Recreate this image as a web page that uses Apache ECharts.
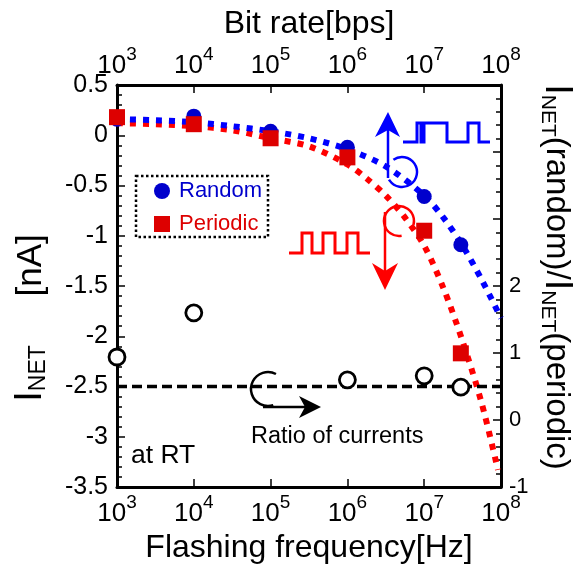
<!DOCTYPE html>
<html><head><meta charset="utf-8">
<script src="https://cdn.jsdelivr.net/npm/echarts@6/dist/echarts.min.js"></script>
<style>html,body{margin:0;padding:0;background:#fff}#c{width:579px;height:574px}</style>
</head><body><div id="c"></div>
<script>
// ---- data ----
const freqs = [1e3, 1e4, 1e5, 1e6, 1e7, 3e7];
const randomI = [0.16, 0.19, 0.04, -0.12, -0.61, -1.09];
const periodicI = [0.18, 0.11, -0.03, -0.22, -0.95, -2.17];
const ratioFreqs = [1e3, 1e4, 1e6, 1e7, 3e7];
const ratioVals = [0.94, 1.6, 0.6, 0.66, 0.49];
const randomFitFreqs = [1000, 3162, 10000, 31623, 100000, 316228, 1e6, 3162278, 1e7, 17782794, 31622777, 56234133, 1e8];
const randomFit = [0.16, 0.15, 0.13, 0.09, 0.04, -0.03, -0.14, -0.31, -0.6, -0.82, -1.1, -1.44, -1.82];
const periodicFitFreqs = [1000, 3162, 10000, 31623, 100000, 316228, 1e6, 1778279, 3162278, 5623413, 1e7, 17782794, 31622777, 56234133, 91201084];
const periodicFit = [0.12, 0.11, 0.09, 0.05, -0.03, -0.11, -0.29, -0.43, -0.6, -0.82, -1.1, -1.52, -2.05, -2.67, -3.33];
const refFreqs = [1e3, 1e8];
const refLevel = [-2.5, -2.5];
const leftTicks = {min: -3.5, max: 0.5, interval: 0.5};
const rightTicks = {min: -1, max: 5, interval: 1, labelMax: 2};
const xRange = {min: 1e3, max: 1e8};

const FONT = 'Liberation Sans, Arial, sans-serif';
const zip = (xs, ys) => xs.map((x, i) => [x, ys[i]]);

const chart = echarts.init(document.getElementById('c'), null, {renderer: 'canvas'});

const logLabel = {
  fontFamily: FONT, color: '#000',
  formatter: v => '{b|10}{s|' + Math.round(Math.log10(v)) + '}',
  rich: {
    b: {fontSize: 26, fontFamily: FONT, color: '#000', padding: [8, 0, 0, 0], verticalAlign: 'bottom'},
    s: {fontSize: 19, fontFamily: FONT, color: '#000', verticalAlign: 'top', lineHeight: 19}
  }
};

const xBase = (pos, name, gap) => ({
  type: 'log', logBase: 10, min: xRange.min, max: xRange.max, position: pos,
  name: name, nameLocation: 'middle', nameGap: gap,
  nameTextStyle: {fontSize: 32, fontFamily: FONT, color: '#000'},
  axisLine: {show: true, onZero: false, lineStyle: {color: '#000', width: 3}},
  axisTick: {show: true, inside: true, length: 8, lineStyle: {color: '#000', width: 1.5}},
  minorTick: {show: false}, splitLine: {show: false}, minorSplitLine: {show: false},
  axisLabel: Object.assign({margin: 6}, logLabel)
});

const titleRich = {
  i: {fontSize: 38, fontFamily: FONT, fill: '#000'},
  s: {fontSize: 21, fontFamily: FONT, fill: '#000', verticalAlign: 'bottom', padding: [14, 0, 0, 0]},
  t: {fontSize: 33, fontFamily: FONT, fill: '#000'}
};
const leftTitleRich = {
  i: {fontSize: 38, fontFamily: FONT, fill: '#000'},
  s: {fontSize: 23, fontFamily: FONT, fill: '#000', verticalAlign: 'bottom', padding: [14, 0, 0, 0]},
  t: {fontSize: 35, fontFamily: FONT, fill: '#000'}
};

chart.setOption({
  animation: false,
  backgroundColor: '#fff',
  grid: {left: 117, right: 78, top: 85, bottom: 87, containLabel: false},
  xAxis: [xBase('bottom', 'Flashing frequency[Hz]', 40), xBase('top', 'Bit rate[bps]', 40)],
  yAxis: [
    {type: 'value', position: 'left', min: leftTicks.min, max: leftTicks.max, interval: leftTicks.interval,
     axisLine: {show: true, onZero: false, lineStyle: {color: '#000', width: 3}},
     axisTick: {show: true, inside: true, length: 8, lineStyle: {color: '#000', width: 1.5}},
     minorTick: {show: true, splitNumber: 5, length: 5, lineStyle: {color: '#000', width: 1.5}},
     splitLine: {show: false},
     axisLabel: {fontSize: 25, fontFamily: FONT, color: '#000', margin: 9}},
    {type: 'value', position: 'right', min: rightTicks.min, max: rightTicks.max, interval: rightTicks.interval,
     axisLine: {show: true, onZero: false, lineStyle: {color: '#000', width: 3}},
     axisTick: {show: true, inside: true, length: 8, lineStyle: {color: '#000', width: 1.5}},
     minorTick: {show: true, splitNumber: 5, length: 5, lineStyle: {color: '#000', width: 1.5}},
     splitLine: {show: false},
     axisLabel: {fontSize: 22, fontFamily: FONT, color: '#000', margin: 8,
       formatter: v => (v <= rightTicks.labelMax ? String(v) : '')}}
  ],
  legend: {
    orient: 'vertical', left: 149, top: 175, itemWidth: 16, itemHeight: 16, itemGap: 11,
    textStyle: {fontSize: 22, fontFamily: FONT, padding: [0, 0, 0, 4]},
    data: [
      {name: 'Random', icon: 'circle', itemStyle: {color: '#0000cc', opacity: 1}, textStyle: {color: '#0000cc'}},
      {name: 'Periodic', icon: 'rect', itemStyle: {color: '#dd0000', opacity: 1}, textStyle: {color: '#dd0000'}}
    ]
  },
  series: [
    {name: 'PeriodicFit', type: 'line', data: zip(periodicFitFreqs, periodicFit), smooth: 0.3,
     showSymbol: false, symbol: 'none', z: 2,
     lineStyle: {color: '#ff0000', width: 6, type: [6, 7], cap: 'butt'}},
    {name: 'RandomFit', type: 'line', data: zip(randomFitFreqs, randomFit), smooth: 0.3,
     showSymbol: false, symbol: 'none', z: 2,
     lineStyle: {color: '#0000ff', width: 6, type: [6, 7], cap: 'butt'}},
    {name: 'Ref', type: 'line', data: zip(refFreqs, refLevel), symbol: 'none', z: 2,
     lineStyle: {color: '#000', width: 3.5, type: [10, 5]}},
    {name: 'Ratio', type: 'scatter', yAxisIndex: 1, data: zip(ratioFreqs, ratioVals), z: 3,
     symbol: 'circle', symbolSize: 16,
     itemStyle: {color: '#fff', borderColor: '#000', borderWidth: 2.8, opacity: 1}},
    {name: 'Random', type: 'scatter', data: zip(freqs, randomI), z: 4,
     symbol: 'circle', symbolSize: 15, itemStyle: {color: '#0000cc', opacity: 1}},
    {name: 'Periodic', type: 'scatter', data: zip(freqs, periodicI), z: 5,
     symbol: 'rect', symbolSize: 16, itemStyle: {color: '#dd0000', opacity: 1}}
  ],
  graphic: [
    // legend box
    {type: 'rect', shape: {x: 136, y: 176, width: 132, height: 61}, z: 10,
     style: {fill: 'none', stroke: '#000', lineWidth: 2.5, lineDash: [2.5, 2.5]}},
    // blue arrow + curl + random wave
    {type: 'line', shape: {x1: 388, y1: 178, x2: 388, y2: 128}, style: {stroke: '#0000ff', lineWidth: 2.5}, z: 10},
    {type: 'polygon', shape: {points: [[388, 112], [400, 137], [388, 130], [375, 137]]}, style: {fill: '#0000ff'}, z: 10},
    {type: 'arc', shape: {cx: 402, cy: 172, r: 15, startAngle: 235 * Math.PI / 180, endAngle: 510 * Math.PI / 180, clockwise: true},
     style: {stroke: '#0000ff', lineWidth: 2.5, fill: 'none'}, z: 10},
    {type: 'polyline', shape: {points: [[403, 142], [417, 142], [417, 123], [421, 123], [421, 142], [424, 142], [424, 123], [447, 123], [447, 142], [468, 142], [468, 123], [479, 123], [479, 142], [490, 142]]},
     style: {stroke: '#0000ff', lineWidth: 3, fill: 'none'}, z: 10},
    // red arrow + curl + periodic wave
    {type: 'line', shape: {x1: 385, y1: 212, x2: 385, y2: 272}, style: {stroke: '#ff0000', lineWidth: 2.5}, z: 10},
    {type: 'polygon', shape: {points: [[385, 290], [398, 263], [385, 271], [372, 263]]}, style: {fill: '#ff0000'}, z: 10},
    {type: 'arc', shape: {cx: 399, cy: 221, r: 15, startAngle: 80 * Math.PI / 180, endAngle: 375 * Math.PI / 180, clockwise: true},
     style: {stroke: '#ff0000', lineWidth: 2.5, fill: 'none'}, z: 10},
    {type: 'polyline', shape: {points: [[289, 253], [302, 253], [302, 233], [312, 233], [312, 253], [323, 253], [323, 233], [335, 233], [335, 253], [347, 253], [347, 233], [358, 233], [358, 253], [370, 253]]},
     style: {stroke: '#ff0000', lineWidth: 3, fill: 'none'}, z: 10},
    // black curl + arrow
    {type: 'arc', shape: {cx: 268, cy: 389, r: 17, startAngle: 72 * Math.PI / 180, endAngle: 298 * Math.PI / 180, clockwise: true},
     style: {stroke: '#000', lineWidth: 2.5, fill: 'none'}, z: 10},
    {type: 'line', shape: {x1: 263, y1: 407, x2: 306, y2: 407}, style: {stroke: '#000', lineWidth: 2.5}, z: 10},
    {type: 'polygon', shape: {points: [[321, 407], [299, 396], [305, 407], [299, 418]]}, style: {fill: '#000'}, z: 10},
    // texts
    {type: 'text', x: 251, y: 437, z: 10,
     style: {text: 'Ratio of currents', fontSize: 23.5, fontFamily: FONT, fill: '#000', align: 'left', verticalAlign: 'middle'}},
    {type: 'text', x: 131, y: 456, z: 10,
     style: {text: 'at RT', fontSize: 26.5, fontFamily: FONT, fill: '#000', align: 'left', verticalAlign: 'middle'}},
    // axis titles (rotated)
    {type: 'text', x: 31, y: 318, rotation: Math.PI / 2, z: 10,
     style: {text: '{i|I}{s|NET}{t|     [nA]}', align: 'center', verticalAlign: 'middle', rich: leftTitleRich}},
    {type: 'text', x: 556, y: 277, rotation: -Math.PI / 2, z: 10,
     style: {text: '{i|I}{s|NET}{t|(random)/}{i|I}{s|NET}{t|(periodic)}', align: 'center', verticalAlign: 'middle', rich: titleRich}}
  ]
});
</script>
</body></html>
